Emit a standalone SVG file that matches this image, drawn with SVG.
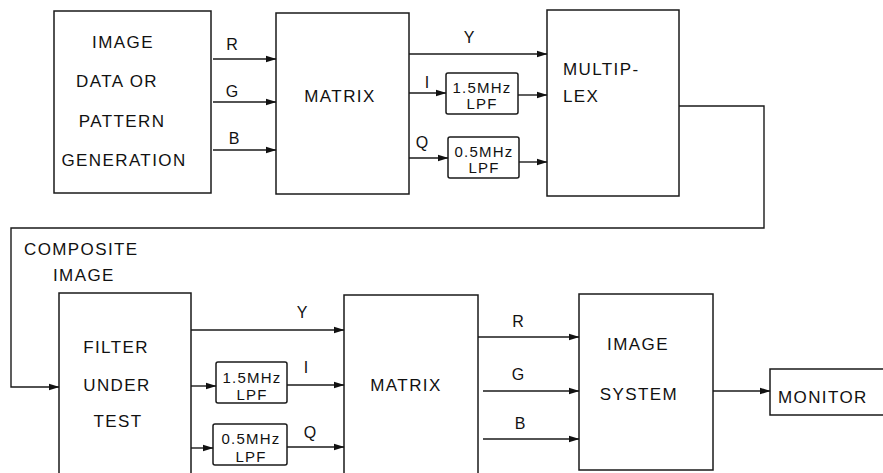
<svg xmlns="http://www.w3.org/2000/svg" width="883" height="473" viewBox="0 0 883 473">
<style>
.box{fill:none;stroke:#1a1a1a;stroke-width:1.5}
.lpf{fill:none;stroke:#1a1a1a;stroke-width:1.5}
.ln{fill:none;stroke:#1a1a1a;stroke-width:1.4}
.t{font-family:"Liberation Sans",Arial,sans-serif;font-size:17px;letter-spacing:1.4px;fill:#111}
.m{text-anchor:middle}
.s{font-family:"Liberation Sans",Arial,sans-serif;font-size:16px;fill:#111;text-anchor:middle}
.f{font-family:"Liberation Sans",Arial,sans-serif;font-size:15px;letter-spacing:1.2px;fill:#111;text-anchor:middle}
</style>
<defs>
<marker id="ah" markerWidth="11" markerHeight="8" refX="10.5" refY="4" orient="auto" markerUnits="userSpaceOnUse">
<path d="M0,0.5 L11,4 L0,7.5 Z" fill="#111"/>
</marker>
</defs>
<rect width="883" height="473" fill="#fff"/>

<g id="source">
<rect class="box" x="54" y="11" width="157" height="182"/>
<text class="t m" x="123" y="48">IMAGE</text>
<text class="t m" x="117" y="87">DATA OR</text>
<text class="t m" x="122" y="127">PATTERN</text>
<text class="t m" x="124" y="166">GENERATION</text>
</g>
<g id="matrix1">
<rect class="box" x="276" y="13" width="133" height="181"/>
<text class="t m" x="340" y="102">MATRIX</text>
</g>
<g id="lpf1a">
<rect class="lpf" x="446" y="73" width="72" height="41" rx="2"/>
<text class="f" x="482" y="93">1.5MHz</text>
<text class="f" x="482" y="109">LPF</text>
</g>
<g id="lpf2a">
<rect class="lpf" x="448" y="137" width="71" height="41" rx="2"/>
<text class="f" x="484" y="157">0.5MHz</text>
<text class="f" x="484" y="173">LPF</text>
</g>
<g id="mux">
<rect class="box" x="547" y="10" width="132" height="186"/>
<text class="t" x="563" y="75">MULTIP-</text>
<text class="t" x="563" y="102">LEX</text>
</g>
<g id="filter">
<path class="box" d="M59,475 V293 H191 V475"/>
<text class="t m" x="116" y="353">FILTER</text>
<text class="t m" x="117" y="391">UNDER</text>
<text class="t m" x="118" y="427">TEST</text>
</g>
<g id="lpf1b">
<rect class="lpf" x="216" y="362" width="71" height="41" rx="2"/>
<text class="f" x="252" y="383">1.5MHz</text>
<text class="f" x="252" y="400">LPF</text>
</g>
<g id="lpf2b">
<rect class="lpf" x="213" y="424" width="74" height="41" rx="2"/>
<text class="f" x="251" y="444">0.5MHz</text>
<text class="f" x="251" y="462">LPF</text>
</g>
<g id="matrix2">
<path class="box" d="M344,475 V295 H478 V475"/>
<text class="t m" x="406" y="391">MATRIX</text>
</g>
<g id="imagesystem">
<rect class="box" x="579" y="294" width="134" height="176"/>
<text class="t m" x="638" y="350">IMAGE</text>
<text class="t m" x="639" y="400">SYSTEM</text>
</g>
<g id="monitor">
<path class="box" d="M884,369 H770 V415 H884"/>
<text class="t" x="778" y="403">MONITOR</text>
</g>

<g id="connectors">
<line class="ln" x1="213" y1="59" x2="276" y2="59" marker-end="url(#ah)"/>
<line class="ln" x1="213" y1="102" x2="276" y2="102" marker-end="url(#ah)"/>
<line class="ln" x1="213" y1="150" x2="276" y2="150" marker-end="url(#ah)"/>
<line class="ln" x1="409" y1="54" x2="547" y2="54" marker-end="url(#ah)"/>
<line class="ln" x1="409" y1="93" x2="446" y2="93" marker-end="url(#ah)"/>
<line class="ln" x1="518" y1="95" x2="547" y2="95" marker-end="url(#ah)"/>
<line class="ln" x1="409" y1="158" x2="448" y2="158" marker-end="url(#ah)"/>
<line class="ln" x1="519" y1="162" x2="547" y2="162" marker-end="url(#ah)"/>
<path class="ln" d="M679,106 H764 V228 H11 V387 H59" marker-end="url(#ah)"/>
<line class="ln" x1="191" y1="330" x2="344" y2="330" marker-end="url(#ah)"/>
<line class="ln" x1="191" y1="386" x2="216" y2="386" marker-end="url(#ah)"/>
<line class="ln" x1="287" y1="385" x2="344" y2="385" marker-end="url(#ah)"/>
<line class="ln" x1="191" y1="448" x2="213" y2="448" marker-end="url(#ah)"/>
<line class="ln" x1="287" y1="447" x2="344" y2="447" marker-end="url(#ah)"/>
<line class="ln" x1="478" y1="337" x2="579" y2="337" marker-end="url(#ah)"/>
<line class="ln" x1="483" y1="391" x2="579" y2="391" marker-end="url(#ah)"/>
<line class="ln" x1="483" y1="439" x2="579" y2="439" marker-end="url(#ah)"/>
<line class="ln" x1="713" y1="391" x2="770" y2="391" marker-end="url(#ah)"/>
</g>

<g id="labels">
<text class="s" x="232" y="50">R</text>
<text class="s" x="232" y="97">G</text>
<text class="s" x="234" y="144">B</text>
<text class="s" x="469" y="43">Y</text>
<text class="s" x="427" y="88">I</text>
<text class="s" x="422" y="148">Q</text>
<text class="t" x="24" y="255">COMPOSITE</text>
<text class="t" x="53" y="281">IMAGE</text>
<text class="s" x="302" y="318">Y</text>
<text class="s" x="306" y="373">I</text>
<text class="s" x="310" y="438">Q</text>
<text class="s" x="518" y="327">R</text>
<text class="s" x="518" y="380">G</text>
<text class="s" x="520" y="429">B</text>
</g>
</svg>
